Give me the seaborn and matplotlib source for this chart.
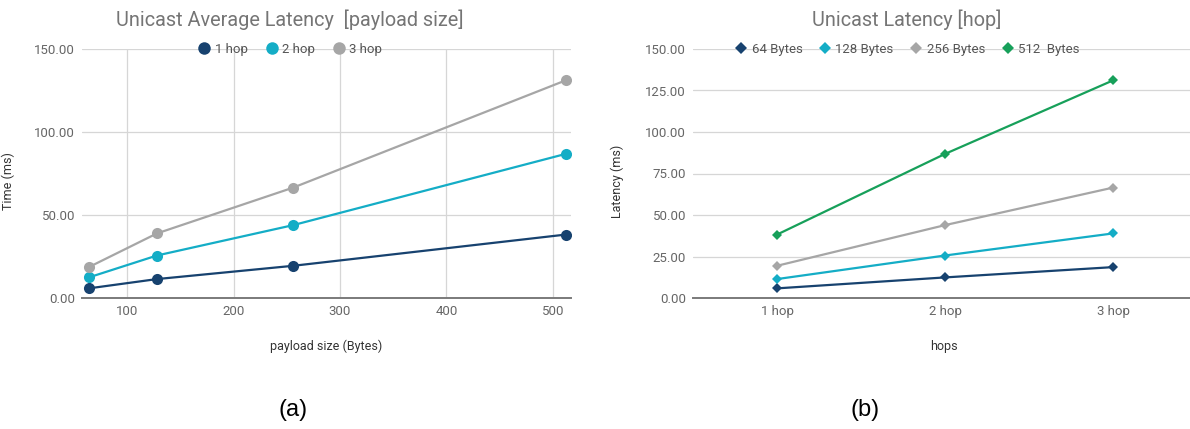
import matplotlib
matplotlib.use("Agg")
import matplotlib.pyplot as plt
from matplotlib.lines import Line2D
from matplotlib.ticker import FormatStrFormatter
import seaborn as sns
import pandas as pd

# Measured unicast latency (ms) per payload size, for 1, 2 and 3 hops
payload_sizes = [64, 128, 256, 512]
hop_labels = ["1 hop", "2 hop", "3 hop"]
size_labels = ["64 Bytes", "128 Bytes", "256 Bytes", "512  Bytes"]
latency_64 = [5.8, 12.4, 18.6]
latency_128 = [11.4, 25.6, 38.9]
latency_256 = [19.4, 43.9, 66.5]
latency_512 = [38.2, 86.8, 131.1]

hop_colors = ["#17426f", "#14adc6", "#a6a6a6"]
size_colors = ["#17426f", "#14adc6", "#a6a6a6", "#17a05a"]

sns.set_theme(style="white")
plt.rcParams["font.family"] = ["Roboto", "DejaVu Sans"]

latency_rows = [latency_64, latency_128, latency_256, latency_512]
records = []
for size, slabel, row in zip(payload_sizes, size_labels, latency_rows):
    for hi, (hlabel, val) in enumerate(zip(hop_labels, row)):
        records.append({"payload": size, "size_label": slabel,
                        "hop": hlabel, "hop_idx": hi, "latency": val})
df = pd.DataFrame(records)

W, H = 1190, 429
fig = plt.figure(figsize=(W / 100, H / 100), dpi=100)
fig.patch.set_facecolor("white")

def px_box(x0, x1, ytop, ybot):
    return [x0 / W, 1 - ybot / H, (x1 - x0) / W, (ybot - ytop) / H]

ax1 = fig.add_axes(px_box(82, 571, 49, 298))
ax2 = fig.add_axes(px_box(693, 1190, 49, 298))

tick_color = "#666666"
grid_color = "#d6d6d6"

# Left: latency vs payload size, one line per hop count
sns.lineplot(data=df, x="payload", y="latency", hue="hop",
             hue_order=hop_labels, palette=hop_colors, marker="o",
             markersize=8, markeredgewidth=0, linewidth=1.6,
             legend=False, ax=ax1)
ax1.set_xlim(57.6, 517)
ax1.set_ylim(0, 150)
ax1.set_xticks([100, 200, 300, 400, 500])
ax1.set_yticks([0, 50, 100, 150])
ax1.grid(True, axis="both", color=grid_color, linewidth=0.9)
ax1.set_xlabel("payload size (Bytes)")
ax1.set_ylabel("Time (ms)")

# Right: latency vs hop count, one line per payload size
sns.lineplot(data=df, x="hop_idx", y="latency", hue="size_label",
             hue_order=size_labels, palette=size_colors, marker="D",
             markersize=5.5, markeredgewidth=0, linewidth=1.6,
             legend=False, ax=ax2)
ax2.set_xlim(-0.5, 2.458)
ax2.set_ylim(0, 150)
ax2.set_xticks(range(len(hop_labels)))
ax2.set_xticklabels(hop_labels)
ax2.set_yticks([0, 25, 50, 75, 100, 125, 150])
ax2.grid(True, axis="y", color=grid_color, linewidth=0.9)
ax2.grid(False, axis="x")
ax2.set_xlabel("hops")
ax2.set_ylabel("Latency (ms)")

for ax in (ax1, ax2):
    ax.set_axisbelow(True)
    ax.set_facecolor("white")
    for side in ("top", "right", "left"):
        ax.spines[side].set_visible(False)
    ax.spines["bottom"].set_color("#7a7a7a")
    ax.spines["bottom"].set_linewidth(1.4)
    ax.yaxis.set_major_formatter(FormatStrFormatter("%.2f"))
    ax.tick_params(axis="both", length=0, labelsize=9.5,
                   labelcolor=tick_color, pad=5)
    ax.xaxis.label.set_size(9)
    ax.yaxis.label.set_size(9)
    ax.xaxis.label.set_color("#333333")
    ax.yaxis.label.set_color("#333333")

ax1.yaxis.set_label_coords((15 - 82) / 489, 0.47)
ax1.xaxis.set_label_coords(0.499, (298 - 340) / 249)
ax2.yaxis.set_label_coords((624 - 693) / 497, 0.47)
ax2.xaxis.set_label_coords(0.505, (298 - 340) / 249)

# Titles
fig.text(290 / W, 1 - 20 / H, "Unicast Average Latency  [payload size]",
         ha="center", va="center", fontsize=14.3, color="#757575")
fig.text(907 / W, 1 - 20 / H, "Unicast Latency [hop]",
         ha="center", va="center", fontsize=14.3, color="#757575")

# Legends sitting on the top gridline
hop_handles = [Line2D([], [], linestyle="none", marker="o", markersize=9,
                      markeredgewidth=0, color=c) for c in hop_colors]
fig.legend(hop_handles, hop_labels, loc="center",
           bbox_to_anchor=(290 / W, 1 - 49 / H), ncol=3, frameon=False,
           fontsize=9.5, handlelength=1.0, handletextpad=0.3,
           columnspacing=1.3, labelcolor="#555555")
size_handles = [Line2D([], [], linestyle="none", marker="D", markersize=6,
                       markeredgewidth=0, color=c) for c in size_colors]
fig.legend(size_handles, size_labels, loc="center",
           bbox_to_anchor=(907 / W, 1 - 49 / H), ncol=4, frameon=False,
           fontsize=9.5, handlelength=1.0, handletextpad=0.3,
           columnspacing=1.2, labelcolor="#555555")

# Panel captions
fig.text(293 / W, 1 - 410 / H, "(a)", ha="center", va="center",
         fontsize=17, color="black", family=["Liberation Sans", "DejaVu Sans"])
fig.text(865 / W, 1 - 410 / H, "(b)", ha="center", va="center",
         fontsize=17, color="black", family=["Liberation Sans", "DejaVu Sans"])

fig.savefig("out.png", dpi=100, facecolor="white")
